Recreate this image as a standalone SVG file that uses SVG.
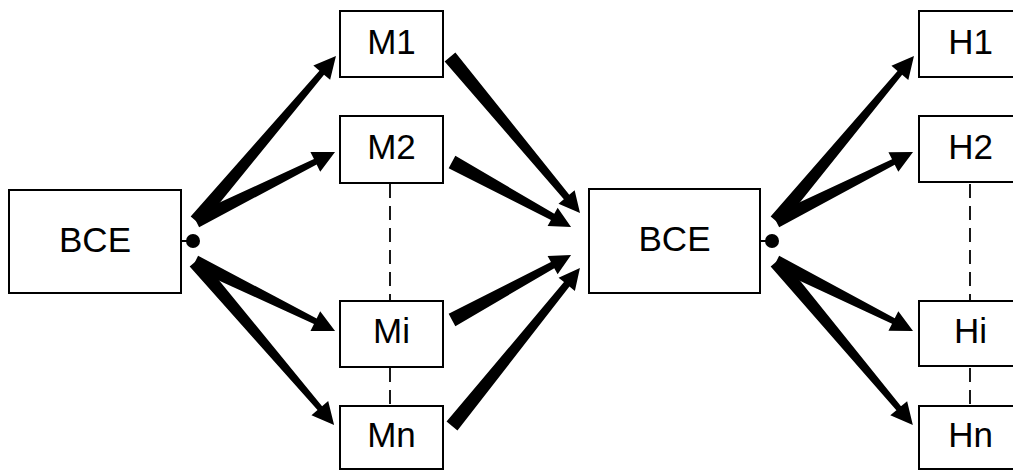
<svg xmlns="http://www.w3.org/2000/svg" width="1013" height="471" viewBox="0 0 1013 471">
<style>
.box{fill:#fff;stroke:#000;stroke-width:2}
.lbl{font-family:"Liberation Sans",Arial,sans-serif;font-size:35px;fill:#000;text-anchor:middle}
.dash{stroke:#000;stroke-width:1.8;stroke-dasharray:14 8;fill:none}
.arr{fill:#000;stroke:none}
</style>
<rect width="1013" height="471" fill="#fff"/>
<g id="connectors">
<line class="dash" x1="390" y1="184" x2="390" y2="300"/>
<line class="dash" x1="390" y1="368" x2="390" y2="405"/>
<line class="dash" x1="970" y1="184" x2="970" y2="300"/>
<line class="dash" x1="970" y1="368" x2="970" y2="405"/>
<line x1="181" y1="241" x2="190" y2="241" stroke="#000" stroke-width="2"/>
<circle cx="193" cy="241" r="7" fill="#000"/>
<line x1="760" y1="241" x2="769" y2="241" stroke="#000" stroke-width="2"/>
<circle cx="772" cy="241" r="7" fill="#000"/>
<!-- left fan -->
<polygon class="arr" transform="translate(196,221) rotate(-49.7)" points="0,-7 194.4,-3 194.4,-11 216.4,0 194.4,11 194.4,3 0,7"/>
<polygon class="arr" transform="translate(196,221) rotate(-26.4)" points="0,-7 133.2,-3 133.2,-11 155.2,0 133.2,11 133.2,3 0,7"/>
<polygon class="arr" transform="translate(195,262) rotate(26.2)" points="0,-7 134.1,-3 134.1,-11 156.1,0 134.1,11 134.1,3 0,7"/>
<polygon class="arr" transform="translate(195,262) rotate(49.5)" points="0,-7 192.2,-3 192.2,-11 214.2,0 192.2,11 192.2,3 0,7"/>
<!-- M to BCE -->
<polygon class="arr" transform="translate(450,57) rotate(50.2)" points="0,-7 182.1,-3.5 182.1,-10.5 203.1,0 182.1,10.5 182.1,3.5 0,7"/>
<polygon class="arr" transform="translate(452,162) rotate(28.6)" points="0,-7 114.6,-3.5 114.6,-10.5 135.6,0 114.6,10.5 114.6,3.5 0,7"/>
<polygon class="arr" transform="translate(452,320) rotate(-28.6)" points="0,-7 114.6,-3.5 114.6,-10.5 135.6,0 114.6,10.5 114.6,3.5 0,7"/>
<polygon class="arr" transform="translate(452,426) rotate(-51)" points="0,-7 182.3,-3.5 182.3,-10.5 203.3,0 182.3,10.5 182.3,3.5 0,7"/>
<!-- right fan -->
<polygon class="arr" transform="translate(776,221) rotate(-50.1)" points="0,-7 193.1,-3 193.1,-11 215.1,0 193.1,11 193.1,3 0,7"/>
<polygon class="arr" transform="translate(776,221) rotate(-26.7)" points="0,-7 131.4,-3 131.4,-11 153.4,0 131.4,11 131.4,3 0,7"/>
<polygon class="arr" transform="translate(776,262) rotate(26.7)" points="0,-7 131.4,-3 131.4,-11 153.4,0 131.4,11 131.4,3 0,7"/>
<polygon class="arr" transform="translate(776,262) rotate(50)" points="0,-7 190.9,-3 190.9,-11 212.9,0 190.9,11 190.9,3 0,7"/>
</g>
<g id="bce-left"><rect class="box" x="9" y="190" width="172" height="103"/><text class="lbl" x="95" y="252">BCE</text></g>
<g id="m1"><rect class="box" x="340" y="11" width="103" height="66"/><text class="lbl" x="391.5" y="54">M1</text></g>
<g id="m2"><rect class="box" x="340" y="116" width="103" height="67"/><text class="lbl" x="391.5" y="159">M2</text></g>
<g id="mi"><rect class="box" x="340" y="301" width="103" height="66"/><text class="lbl" x="391.5" y="343">Mi</text></g>
<g id="mn"><rect class="box" x="340" y="406" width="103" height="63"/><text class="lbl" x="391.5" y="447">Mn</text></g>
<g id="bce-center"><rect class="box" x="589" y="189" width="171" height="104"/><text class="lbl" x="674.5" y="251">BCE</text></g>
<g id="h1"><rect class="box" x="919" y="11" width="103" height="66"/><text class="lbl" x="970.5" y="54">H1</text></g>
<g id="h2"><rect class="box" x="919" y="116" width="103" height="66"/><text class="lbl" x="970.5" y="159">H2</text></g>
<g id="hi"><rect class="box" x="919" y="301" width="103" height="65"/><text class="lbl" x="970.5" y="343">Hi</text></g>
<g id="hn"><rect class="box" x="919" y="406" width="103" height="63"/><text class="lbl" x="970.5" y="447">Hn</text></g>
</svg>
